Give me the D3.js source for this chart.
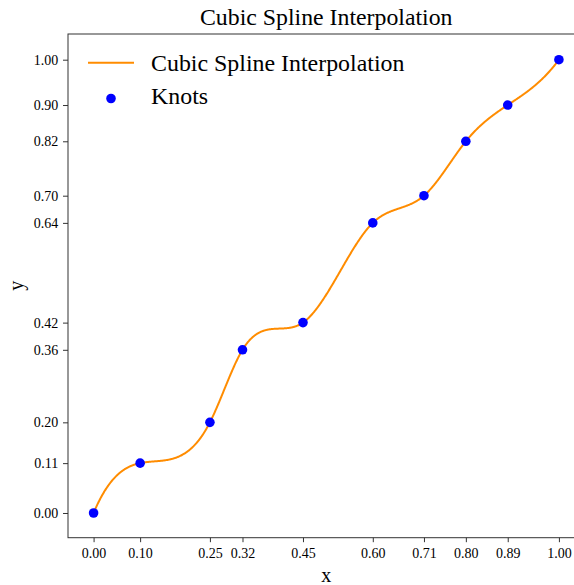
<!DOCTYPE html>
<html>
<head>
<meta charset="utf-8">
<script src="https://cdn.jsdelivr.net/npm/d3@7"></script>
<style>
  html, body { margin: 0; padding: 0; background: #ffffff; }
  svg { display: block; }
  text { font-family: "Liberation Serif", "Times New Roman", serif; fill: #000; }
</style>
</head>
<body>
<svg id="chart" width="574" height="585"></svg>
<script>
// Knot positions of the spline
const knotX = [0.00, 0.10, 0.25, 0.32, 0.45, 0.60, 0.71, 0.80, 0.89, 1.00];
const knotY = [0.00, 0.11, 0.20, 0.36, 0.42, 0.64, 0.70, 0.82, 0.90, 1.00];

// Tick labels sit exactly on the knots
const xTickValues = knotX.slice();
const yTickValues = knotY.slice();

const titleText = "Cubic Spline Interpolation";
const legendLabels = ["Cubic Spline Interpolation", "Knots"];

const SERIF = '"Liberation Serif", "Times New Roman", serif';

// Cubic spline through the knots with "not-a-knot" end conditions.
// Solves for the second derivatives M at each knot.
function notAKnotSpline(xs, ys) {
  const n = xs.length;
  const h = [];
  for (let i = 0; i < n - 1; i++) h.push(xs[i + 1] - xs[i]);
  const A = Array.from({ length: n }, () => new Array(n).fill(0));
  const b = new Array(n).fill(0);
  // end condition: continuous third derivative at x[1]
  A[0][0] = h[1]; A[0][1] = -(h[0] + h[1]); A[0][2] = h[0];
  for (let i = 1; i < n - 1; i++) {
    A[i][i - 1] = h[i - 1];
    A[i][i] = 2 * (h[i - 1] + h[i]);
    A[i][i + 1] = h[i];
    b[i] = 6 * ((ys[i + 1] - ys[i]) / h[i] - (ys[i] - ys[i - 1]) / h[i - 1]);
  }
  // end condition: continuous third derivative at x[n-2]
  A[n - 1][n - 3] = h[n - 2];
  A[n - 1][n - 2] = -(h[n - 3] + h[n - 2]);
  A[n - 1][n - 1] = h[n - 3];
  // Gaussian elimination with partial pivoting
  for (let c = 0; c < n; c++) {
    let p = c;
    for (let r = c + 1; r < n; r++) if (Math.abs(A[r][c]) > Math.abs(A[p][c])) p = r;
    [A[c], A[p]] = [A[p], A[c]];
    [b[c], b[p]] = [b[p], b[c]];
    for (let r = c + 1; r < n; r++) {
      const f = A[r][c] / A[c][c];
      for (let k = c; k < n; k++) A[r][k] -= f * A[c][k];
      b[r] -= f * b[c];
    }
  }
  const M = new Array(n).fill(0);
  for (let r = n - 1; r >= 0; r--) {
    let s = b[r];
    for (let k = r + 1; k < n; k++) s -= A[r][k] * M[k];
    M[r] = s / A[r][r];
  }
  return function (x) {
    let i = d3.bisectRight(xs, x) - 1;
    i = Math.max(0, Math.min(n - 2, i));
    const hi = h[i], a = xs[i + 1] - x, t = x - xs[i];
    return M[i] * a * a * a / (6 * hi) + M[i + 1] * t * t * t / (6 * hi) +
      (ys[i] / hi - M[i] * hi / 6) * a + (ys[i + 1] / hi - M[i + 1] * hi / 6) * t;
  };
}

const spline = notAKnotSpline(knotX, knotY);
const fineX = d3.range(0, 1000 + 1).map(k => k / 1000);
const curvePoints = fineX.map(x => ({ x, y: spline(x) }));

const svg = d3.select("#chart");
const plot = { left: 68, right: 584.5, top: 34, bottom: 537.7 };

const x = d3.scaleLinear().domain([-0.055, 1.055]).range([plot.left, plot.right]);
const y = d3.scaleLinear().domain([-0.0545, 1.0567]).range([plot.bottom, plot.top]);

// clip so the curve stays inside the axes box
svg.append("defs").append("clipPath").attr("id", "plot-clip")
  .append("rect")
  .attr("x", plot.left).attr("y", plot.top)
  .attr("width", plot.right - plot.left).attr("height", plot.bottom - plot.top);

// axes
const xAxis = svg.append("g")
  .attr("transform", `translate(0,${plot.bottom})`)
  .call(d3.axisBottom(x).tickValues(xTickValues).tickFormat(d3.format(".2f"))
    .tickSize(4.5).tickSizeOuter(0).tickPadding(6));
const yAxis = svg.append("g")
  .attr("transform", `translate(${plot.left},0)`)
  .call(d3.axisLeft(y).tickValues(yTickValues).tickFormat(d3.format(".2f"))
    .tickSize(5).tickSizeOuter(0).tickPadding(4.7));

[xAxis, yAxis].forEach(g => {
  g.attr("font-family", SERIF);
  g.select(".domain").remove();
  g.selectAll(".tick line").attr("stroke", "#333").attr("stroke-width", 1);
  g.selectAll(".tick text")
    .attr("font-family", SERIF)
    .style("font-family", SERIF)
    .style("font-size", "14px")
    .attr("fill", "#000");
});

// spline curve
const line = d3.line().x(d => x(d.x)).y(d => y(d.y));
svg.append("path")
  .datum(curvePoints)
  .attr("clip-path", "url(#plot-clip)")
  .attr("fill", "none")
  .attr("stroke", "#ff8c00")
  .attr("stroke-width", 2)
  .attr("d", line);

// knots
svg.append("g").selectAll("circle")
  .data(knotX.map((v, i) => ({ x: v, y: knotY[i] })))
  .join("circle")
  .attr("cx", d => x(d.x))
  .attr("cy", d => y(d.y))
  .attr("r", 4.8)
  .attr("fill", "#0000ff");

// axes frame
svg.append("rect")
  .attr("x", plot.left).attr("y", plot.top)
  .attr("width", plot.right - plot.left).attr("height", plot.bottom - plot.top)
  .attr("fill", "none").attr("stroke", "#333").attr("stroke-width", 1);

// title and axis labels
svg.append("text")
  .attr("x", (plot.left + plot.right) / 2).attr("y", 25)
  .attr("text-anchor", "middle")
  .style("font-family", SERIF).style("font-size", "23.8px")
  .text(titleText);
svg.append("text")
  .attr("x", (plot.left + plot.right) / 2).attr("y", 581.5)
  .attr("text-anchor", "middle")
  .style("font-family", SERIF).style("font-size", "20px")
  .text("x");
svg.append("text")
  .attr("transform", `translate(23,${(plot.top + plot.bottom) / 2}) rotate(-90)`)
  .attr("text-anchor", "middle")
  .style("font-family", SERIF).style("font-size", "20px")
  .text("y");

// legend
const legend = svg.append("g");
legend.append("line")
  .attr("x1", 88).attr("x2", 134).attr("y1", 62.7).attr("y2", 62.7)
  .attr("stroke", "#ff8c00").attr("stroke-width", 2);
legend.append("circle")
  .attr("cx", 111).attr("cy", 98.5).attr("r", 4.8).attr("fill", "#0000ff");
legend.selectAll("text.legend-label")
  .data(legendLabels)
  .join("text")
  .attr("class", "legend-label")
  .attr("x", 151)
  .attr("y", (d, i) => 70.5 + i * 33)
  .style("font-family", SERIF)
  .style("font-size", "23.9px")
  .text(d => d);
</script>
</body>
</html>
